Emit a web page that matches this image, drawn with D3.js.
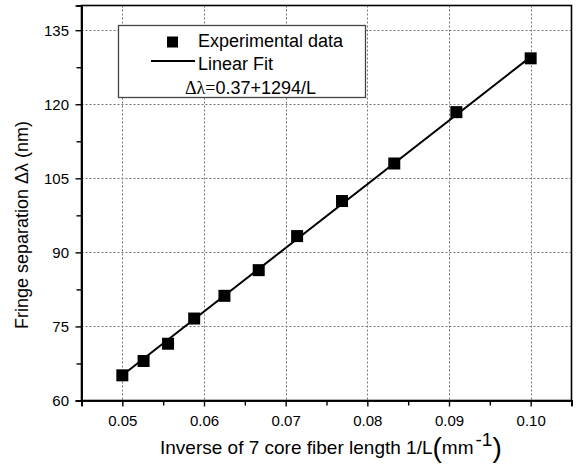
<!DOCTYPE html>
<html>
<head>
<meta charset="utf-8">
<script src="https://cdn.jsdelivr.net/npm/d3@7"></script>
<style>
  html, body { margin: 0; padding: 0; background: #fff; }
  svg { display: block; }
  text { font-family: "Liberation Sans", Arial, sans-serif; fill: #000; }
</style>
</head>
<body>
<svg id="chart" width="576" height="464"></svg>
<script>
// ---- data ----
const invLength = [0.0500, 0.0526, 0.0556, 0.0588, 0.0625, 0.0667, 0.0714, 0.0769, 0.0833, 0.0909, 0.1000];
const fringeSep = [65.1, 68.0, 71.5, 76.6, 81.2, 86.4, 93.3, 100.4, 108.0, 118.4, 129.3];
const fitX = [0.05, 0.10];
const fitY = [65.1, 129.6];
const xTicks = [0.05, 0.06, 0.07, 0.08, 0.09, 0.10];
const xMinorTicks = [0.045, 0.055, 0.065, 0.075, 0.085, 0.095, 0.105];
const yTicks = [60, 75, 90, 105, 120, 135];
const yMinorTicks = [67.5, 82.5, 97.5, 112.5, 127.5];
const legendLabels = ["Experimental data", "Linear Fit"];
const equationSymbol = "Δλ=";
const equationText = "0.37+1294/L";

// ---- layout ----
const svg = d3.select("#chart");
const mLeft = 81.5, mRight = 571.5, mTop = 5.5, mBottom = 400.5;

const x = d3.scaleLinear().domain([0.045, 0.105]).range([mLeft, mRight]);
const y = d3.scaleLinear().domain([60, 140]).range([mBottom, mTop]);

// grid
const grid = svg.append("g").attr("stroke", "#777").attr("stroke-width", 1).attr("stroke-dasharray", "2,2");
grid.selectAll("line.gx").data(xTicks).join("line")
  .attr("x1", d => Math.round(x(d)) + 0.5).attr("x2", d => Math.round(x(d)) + 0.5)
  .attr("y1", mTop).attr("y2", mBottom);
grid.selectAll("line.gy").data(yTicks.filter(d => d > 60)).join("line")
  .attr("y1", d => Math.round(y(d)) + 0.5).attr("y2", d => Math.round(y(d)) + 0.5)
  .attr("x1", mLeft).attr("x2", mRight);

// frame
svg.append("rect").attr("x", mLeft).attr("y", mTop).attr("width", mRight - mLeft).attr("height", mBottom - mTop)
  .attr("fill", "none").attr("stroke", "#000").attr("stroke-width", 1.6);

// axes
const xAxis = svg.append("g").attr("transform", `translate(0,${mBottom})`)
  .call(d3.axisBottom(x).tickValues(xTicks).tickFormat(d3.format(".2f")).tickSize(6).tickPadding(8.5));
const xMinor = svg.append("g").attr("transform", `translate(0,${mBottom})`)
  .call(d3.axisBottom(x).tickValues(xMinorTicks).tickFormat("").tickSize(5));
const yAxis = svg.append("g").attr("transform", `translate(${mLeft},0)`)
  .call(d3.axisLeft(y).tickValues(yTicks).tickSize(6).tickPadding(6.5));
const yMinor = svg.append("g").attr("transform", `translate(${mLeft},0)`)
  .call(d3.axisLeft(y).tickValues(yMinorTicks).tickFormat("").tickSize(5));
[xAxis, xMinor, yAxis, yMinor].forEach(g => {
  g.select(".domain").attr("stroke", "#000").attr("stroke-width", 1.6);
  g.selectAll(".tick line").attr("stroke", "#000").attr("stroke-width", 1.4);
  g.selectAll(".tick text").attr("font-family", '"Liberation Sans", Arial, sans-serif').attr("font-size", 15).attr("fill", "#000");
});

// fit line
const line = d3.line().x((d, i) => x(fitX[i])).y((d, i) => y(fitY[i]));
svg.append("path").datum(fitX).attr("d", line).attr("fill", "none").attr("stroke", "#000").attr("stroke-width", 2);

// markers
const ms = 12;
svg.append("g").selectAll("rect").data(invLength).join("rect")
  .attr("x", (d) => x(d) - ms / 2)
  .attr("y", (d, i) => y(fringeSep[i]) - ms / 2)
  .attr("width", ms).attr("height", ms).attr("fill", "#000");

// legend
const lg = svg.append("g");
lg.append("rect").attr("x", 118.5).attr("y", 25.5).attr("width", 247).attr("height", 72)
  .attr("fill", "#fff").attr("stroke", "#444").attr("stroke-width", 1.3);
lg.append("rect").attr("x", 167).attr("y", 36.5).attr("width", 11).attr("height", 11).attr("fill", "#000");
lg.append("text").attr("x", 198).attr("y", 46.5).attr("font-size", 18).text(legendLabels[0]);
lg.append("line").attr("x1", 151).attr("x2", 195).attr("y1", 61).attr("y2", 61).attr("stroke", "#000").attr("stroke-width", 2);
lg.append("text").attr("x", 198).attr("y", 69.5).attr("font-size", 18).text(legendLabels[1]);
const eq = lg.append("text").attr("x", 185).attr("y", 93.5).attr("font-size", 18);
eq.append("tspan").attr("font-family", '"Liberation Serif", serif').text(equationSymbol);
eq.append("tspan").text(equationText);

// axis titles
const xt = svg.append("text").attr("x", 160).attr("y", 454).attr("font-size", 19);
xt.append("tspan").text("Inverse of 7 core fiber length 1/L");
xt.append("tspan").attr("font-size", 28).attr("dy", 3).text("(");
xt.append("tspan").attr("dy", -3).text("mm");
xt.append("tspan").attr("dy", -8).attr("dx", 2).text("-1");
xt.append("tspan").attr("font-size", 28).attr("dy", 11).text(")");

svg.append("text").attr("transform", "translate(28,225) rotate(-90)")
  .attr("text-anchor", "middle").attr("font-size", 18)
  .text("Fringe separation Δλ (nm)");
</script>
</body>
</html>
